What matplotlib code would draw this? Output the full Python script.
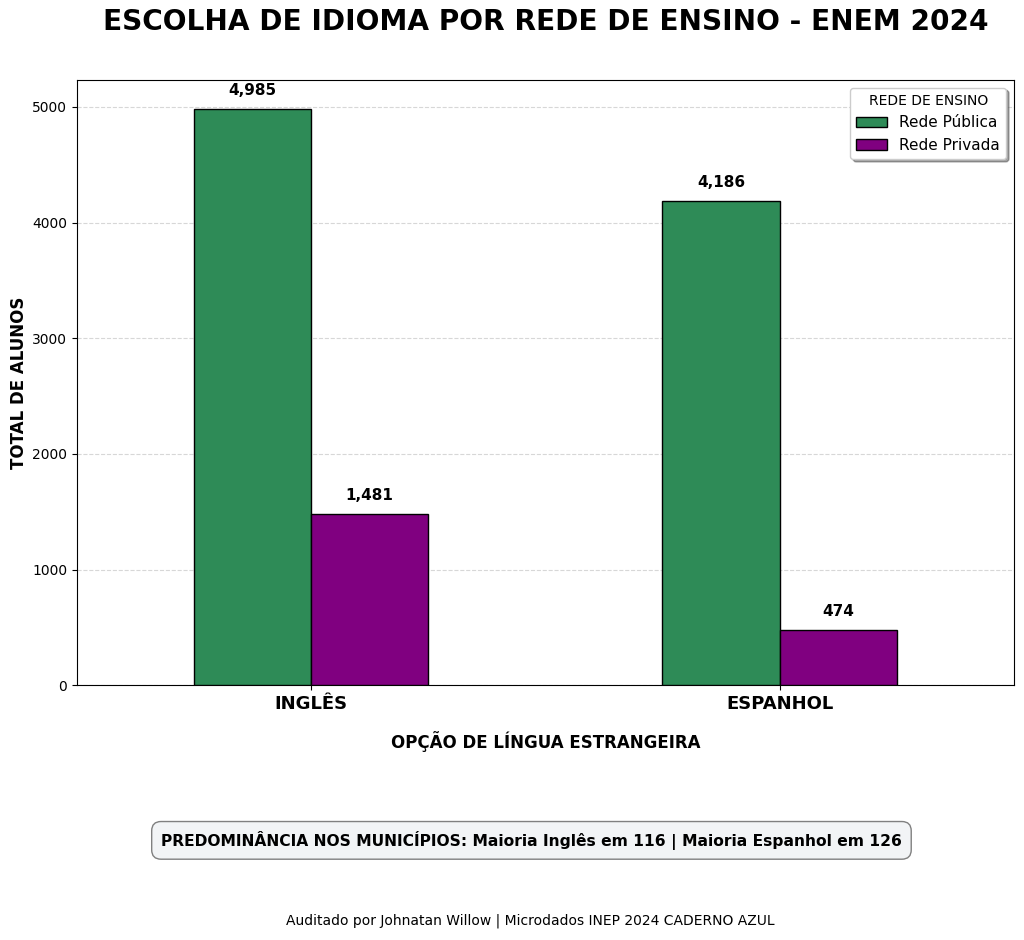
import numpy as np
import matplotlib
matplotlib.use("Agg")
import matplotlib.pyplot as plt

# Dados
idiomas = ['INGLÊS', 'ESPANHOL']
rede_publica = [4985, 4186]
rede_privada = [1481, 474]
series_labels = ['Rede Pública', 'Rede Privada']
cores = ['#2E8B57', '#800080']

fig = plt.figure(figsize=(10.24, 9.4), dpi=100)
ax = fig.add_axes([0.0752, 0.271, 0.9148, 0.644])

x = np.arange(len(idiomas))
largura = 0.25
barras1 = ax.bar(x - largura / 2, rede_publica, largura, color=cores[0],
                 edgecolor='black', linewidth=1, label=series_labels[0], zorder=3)
barras2 = ax.bar(x + largura / 2, rede_privada, largura, color=cores[1],
                 edgecolor='black', linewidth=1, label=series_labels[1], zorder=3)

for barras in (barras1, barras2):
    for b in barras:
        h = b.get_height()
        ax.annotate(f'{h:,.0f}', (b.get_x() + b.get_width() / 2, h),
                    xytext=(0, 8), textcoords='offset points',
                    ha='center', va='bottom', fontsize=11, fontweight='bold')

ax.set_xlim(-0.5, 1.5)
ax.set_ylim(0, max(rede_publica) * 1.05)
ax.set_xticks(x)
ax.set_xticklabels(idiomas, fontsize=13, fontweight='bold')
ax.tick_params(axis='y', labelsize=10)
ax.grid(axis='y', linestyle='--', alpha=0.5, zorder=0)

ax.set_xlabel('OPÇÃO DE LÍNGUA ESTRANGEIRA', fontsize=12, fontweight='bold', labelpad=13)
ax.set_ylabel('TOTAL DE ALUNOS', fontsize=12, fontweight='bold', labelpad=3)

leg = ax.legend(title='REDE DE ENSINO', fontsize=11, title_fontsize=10,
                shadow=True, loc='upper right')

fig.text(0.533, 0.977, 'ESCOLHA DE IDIOMA POR REDE DE ENSINO - ENEM 2024',
         ha='center', va='center', fontsize=20.2, fontweight='bold')

fig.text(0.519, 0.106,
         'PREDOMINÂNCIA NOS MUNICÍPIOS: Maioria Inglês em 116 | Maioria Espanhol em 126',
         ha='center', va='center', fontsize=11.2, fontweight='bold',
         bbox=dict(boxstyle='round,pad=0.6', facecolor='#f2f4f6', edgecolor='gray'))

fig.text(0.518, 0.020, 'Auditado por Johnatan Willow | Microdados INEP 2024 CADERNO AZUL',
         ha='center', va='center', fontsize=10)

fig.savefig('out.png', dpi=100)
